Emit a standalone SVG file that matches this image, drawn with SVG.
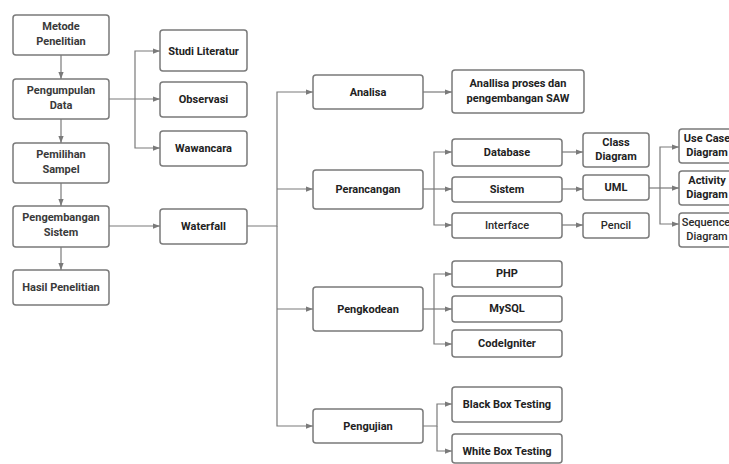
<svg xmlns="http://www.w3.org/2000/svg" width="729" height="464" viewBox="0 0 729 464">
<defs>
<style>
.b{fill:#fff;stroke:#7a7a7a;stroke-width:1.5}
.t{font-family:Roboto,"Liberation Sans",Arial,sans-serif;font-size:11px;font-weight:bold;fill:#222;text-anchor:middle}
.l{fill:#3a3a3a}
.n{font-weight:500;fill:#2a2a2a}
.c{fill:none;stroke:#7a7a7a;stroke-width:1.2}
</style>
<marker id="a" viewBox="0 0 8 8" refX="8" refY="4" markerWidth="7" markerHeight="7" markerUnits="userSpaceOnUse" orient="auto">
<path d="M0,1 L8,4 L0,7 Z" fill="#7a7a7a"/>
</marker>
</defs>
<rect width="729" height="464" fill="#fff"/>
<g id="connectors" class="c">
<path d="M61,55 V79" marker-end="url(#a)"/>
<path d="M61,119 V143" marker-end="url(#a)"/>
<path d="M61,183 V206" marker-end="url(#a)"/>
<path d="M61,247 V270" marker-end="url(#a)"/>
<path d="M109,99 H160" marker-end="url(#a)"/>
<path d="M135,99 V51 H160" marker-end="url(#a)"/>
<path d="M135,99 V148 H160" marker-end="url(#a)"/>
<path d="M109,226 H160" marker-end="url(#a)"/>
<path d="M247,226 H277 V92 H313" marker-end="url(#a)"/>
<path d="M277,189 H313" marker-end="url(#a)"/>
<path d="M277,226 V426 H313" marker-end="url(#a)"/>
<path d="M277,309 H313" marker-end="url(#a)"/>
<path d="M423,92 H452" marker-end="url(#a)"/>
<path d="M423,189 H452" marker-end="url(#a)"/>
<path d="M434,189 V152 H452" marker-end="url(#a)"/>
<path d="M434,189 V225 H452" marker-end="url(#a)"/>
<path d="M562,152 H583" marker-end="url(#a)"/>
<path d="M562,189 H583" marker-end="url(#a)"/>
<path d="M562,225 H583" marker-end="url(#a)"/>
<path d="M649,188 H679" marker-end="url(#a)"/>
<path d="M660,188 V147 H679" marker-end="url(#a)"/>
<path d="M660,188 V224 H679" marker-end="url(#a)"/>
<path d="M423,309 H452" marker-end="url(#a)"/>
<path d="M434,309 V274 H452" marker-end="url(#a)"/>
<path d="M434,309 V344 H452" marker-end="url(#a)"/>
<path d="M423,426 H437 V404 H452" marker-end="url(#a)"/>
<path d="M437,426 V451 H452" marker-end="url(#a)"/>
</g>
<g id="metode"><rect class="b" x="13" y="15" width="96" height="40" rx="3"/><text class="t l" x="61" y="30">Metode<tspan x="61" dy="15">Penelitian</tspan></text></g>
<g id="pengumpulan"><rect class="b" x="13" y="79" width="96" height="40" rx="3"/><text class="t l" x="61" y="94">Pengumpulan<tspan x="61" dy="15">Data</tspan></text></g>
<g id="pemilihan"><rect class="b" x="13" y="143" width="96" height="40" rx="3"/><text class="t l" x="61" y="158">Pemilihan<tspan x="61" dy="15">Sampel</tspan></text></g>
<g id="pengembangan"><rect class="b" x="13" y="206" width="96" height="41" rx="3"/><text class="t l" x="61" y="221">Pengembangan<tspan x="61" dy="15">Sistem</tspan></text></g>
<g id="hasil"><rect class="b" x="13" y="270" width="96" height="35" rx="3"/><text class="t l" x="61" y="291">Hasil Penelitian</text></g>
<g id="studi"><rect class="b" x="160" y="30" width="87" height="41" rx="3"/><text class="t" x="203.5" y="55">Studi Literatur</text></g>
<g id="observasi"><rect class="b" x="160" y="82" width="87" height="35" rx="3"/><text class="t" x="203.5" y="103">Observasi</text></g>
<g id="wawancara"><rect class="b" x="160" y="131" width="87" height="35" rx="3"/><text class="t" x="203.5" y="152">Wawancara</text></g>
<g id="waterfall"><rect class="b" x="160" y="209" width="87" height="35" rx="3"/><text class="t" x="203.5" y="230">Waterfall</text></g>
<g id="analisa"><rect class="b" x="313" y="75" width="110" height="34" rx="3"/><text class="t" x="368" y="96">Analisa</text></g>
<g id="perancangan"><rect class="b" x="313" y="170" width="110" height="39" rx="3"/><text class="t" x="368" y="193">Perancangan</text></g>
<g id="pengkodean"><rect class="b" x="313" y="287" width="110" height="44" rx="3"/><text class="t" x="368" y="313">Pengkodean</text></g>
<g id="pengujian"><rect class="b" x="313" y="409" width="110" height="34" rx="3"/><text class="t" x="368" y="430">Pengujian</text></g>
<g id="anallisa"><rect class="b" x="452" y="70" width="132" height="43" rx="3"/><text class="t" x="518" y="87">Anallisa proses dan<tspan x="518" dy="15">pengembangan SAW</tspan></text></g>
<g id="database"><rect class="b" x="452" y="139" width="110" height="27" rx="3"/><text class="t" x="507" y="156">Database</text></g>
<g id="sistem"><rect class="b" x="452" y="177" width="110" height="25" rx="3"/><text class="t" x="507" y="193">Sistem</text></g>
<g id="interface"><rect class="b" x="452" y="213" width="110" height="25" rx="3"/><text class="t n" x="507" y="229">Interface</text></g>
<g id="classdiagram"><rect class="b" x="583" y="133" width="66" height="34" rx="3"/><text class="t" x="616" y="146">Class<tspan x="616" dy="14">Diagram</tspan></text></g>
<g id="uml"><rect class="b" x="583" y="175" width="66" height="25" rx="3"/><text class="t" x="616" y="191">UML</text></g>
<g id="pencil"><rect class="b" x="583" y="213" width="66" height="25" rx="3"/><text class="t n" x="616" y="229">Pencil</text></g>
<g id="usecase"><rect class="b" x="679" y="129" width="60" height="34" rx="3"/><text class="t" x="707" y="142">Use Case<tspan x="707" dy="14">Diagram</tspan></text></g>
<g id="activity"><rect class="b" x="679" y="171" width="60" height="34" rx="3"/><text class="t" x="707" y="184">Activity<tspan x="707" dy="14">Diagram</tspan></text></g>
<g id="sequence"><rect class="b" x="679" y="213" width="60" height="34" rx="3"/><text class="t n" x="706" y="226">Sequence<tspan x="707" dy="14">Diagram</tspan></text></g>
<g id="php"><rect class="b" x="452" y="261" width="110" height="26" rx="3"/><text class="t" x="507" y="277">PHP</text></g>
<g id="mysql"><rect class="b" x="452" y="296" width="110" height="26" rx="3"/><text class="t" x="507" y="312">MySQL</text></g>
<g id="codeigniter"><rect class="b" x="452" y="330" width="110" height="27" rx="3"/><text class="t" x="507" y="347">CodeIgniter</text></g>
<g id="blackbox"><rect class="b" x="452" y="387" width="110" height="35" rx="3"/><text class="t" x="507" y="408">Black Box Testing</text></g>
<g id="whitebox"><rect class="b" x="452" y="434" width="110" height="29" rx="3"/><text class="t" x="507" y="455">White Box Testing</text></g>
</svg>
